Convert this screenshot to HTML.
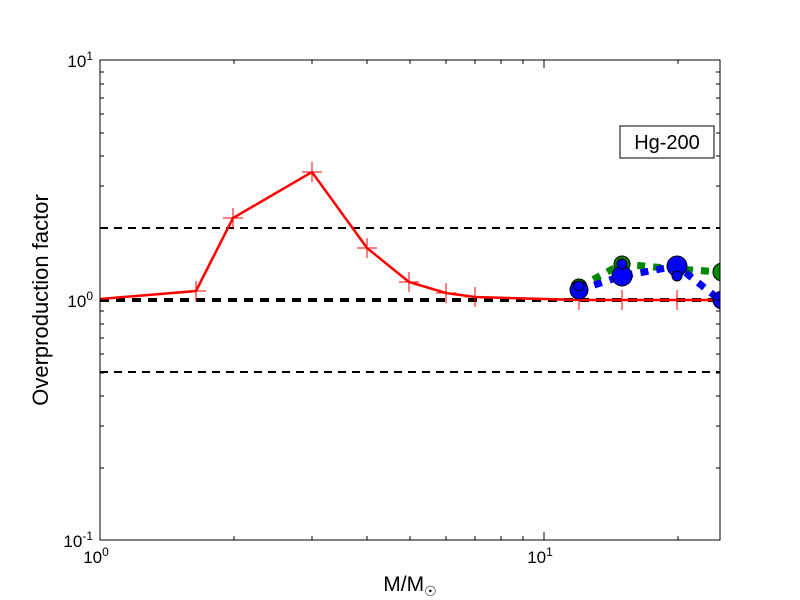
<!DOCTYPE html>
<html><head><style>body{margin:0;background:#fff}svg{display:block}</style></head><body>
<svg width="800" height="600" xmlns="http://www.w3.org/2000/svg" font-family="Liberation Sans, DejaVu Sans, sans-serif">
<defs><clipPath id="c"><rect x="100" y="60" width="620" height="480"/></clipPath></defs>
<rect width="800" height="600" fill="#fff"/>
<g clip-path="url(#c)">
<g stroke="#000" stroke-width="2" stroke-dasharray="8,6">
<line x1="100" y1="228" x2="720" y2="228"/>
<line x1="100" y1="372" x2="720" y2="372"/>
</g>
<line x1="100" y1="300" x2="720" y2="300" stroke="#000" stroke-width="4" stroke-dasharray="9,7"/>
<polyline fill="none" stroke="#f00" stroke-width="2.5" points="100,299 196,291 233,218 312,172 367,248 409,282 446,293 475,297 579,300 622,300 677,300 720,300"/>
<g stroke="#f00" stroke-width="1">
<path d="M186,291h20M196,281v20 M223,218h20M233,208v20 M302,172h20M312,162v20 M357,248h20M367,238v20 M399,282h20M409,272v20 M436,293h20M446,283v20 M465,297h20M475,287v20 M569,300h20M579,290v20 M612,300h20M622,290v20 M667,300h20M677,290v20"/>
</g>
<polyline fill="none" stroke="#080" stroke-width="7" stroke-dasharray="8,8" points="579,287 622,264 677,269 720,272"/>
<polyline fill="none" stroke="#00f" stroke-width="7" stroke-dasharray="8,8" points="579,290 622,276 677,266 720,300"/>
<g stroke="#000" stroke-width="1">
<circle cx="579" cy="287" r="8" fill="#080"/><circle cx="622" cy="264" r="8" fill="#080"/><circle cx="677" cy="269" r="8" fill="#080"/><circle cx="722" cy="272" r="9" fill="#080"/>
<circle cx="579" cy="290" r="9" fill="#00f"/><circle cx="622" cy="276" r="10" fill="#00f"/><circle cx="677" cy="266" r="10" fill="#00f"/><circle cx="722" cy="300" r="9" fill="#00f"/>
<circle cx="579" cy="286" r="5" fill="#00f"/><circle cx="622" cy="264" r="5" fill="#00f"/><circle cx="677" cy="276" r="5" fill="#00f"/>
</g>
</g>
<rect x="620" y="126" width="94" height="32" fill="#fff" stroke="#000"/>
<text x="667" y="149" font-size="20" text-anchor="middle">Hg-200</text>
<rect x="100" y="60" width="620" height="480" fill="none" stroke="#000" stroke-width="1"/>
<g stroke="#000" stroke-width="1">
<path d="M544,540v-8M544,60v8 M100,300h8M720,300h-8"/>
<path d="M234,540v-4M312,540v-4M367,540v-4M410,540v-4M446,540v-4M475,540v-4M501,540v-4M523,540v-4M678,540v-4
M234,60v4M312,60v4M367,60v4M410,60v4M446,60v4M475,60v4M501,60v4M523,60v4M678,60v4
M100,228h4M100,186h4M100,156h4M100,133h4M100,114h4M100,98h4M100,84h4M100,72h4
M100,468h4M100,426h4M100,396h4M100,373h4M100,354h4M100,338h4M100,324h4M100,311h4
M720,228h-4M720,186h-4M720,156h-4M720,133h-4M720,114h-4M720,98h-4M720,84h-4M720,72h-4
M720,468h-4M720,426h-4M720,396h-4M720,373h-4M720,354h-4M720,338h-4M720,324h-4M720,311h-4"/>
</g>
<g font-size="17">
<text x="96" y="563" text-anchor="middle">10<tspan font-size="12" dy="-7">0</tspan></text>
<text x="540" y="563" text-anchor="middle">10<tspan font-size="12" dy="-7">1</tspan></text>
<text x="93" y="67" text-anchor="end">10<tspan font-size="12" dy="-7">1</tspan></text>
<text x="93" y="307" text-anchor="end">10<tspan font-size="12" dy="-7">0</tspan></text>
<text x="93" y="547" text-anchor="end">10<tspan font-size="12" dy="-7">-1</tspan></text>
</g>
<text x="410" y="591" font-size="21" text-anchor="middle">M/M<tspan font-size="14" dy="5">☉</tspan></text>
<text transform="translate(48,300) rotate(-90)" font-size="22" text-anchor="middle">Overproduction factor</text>
</svg>
</body></html>
